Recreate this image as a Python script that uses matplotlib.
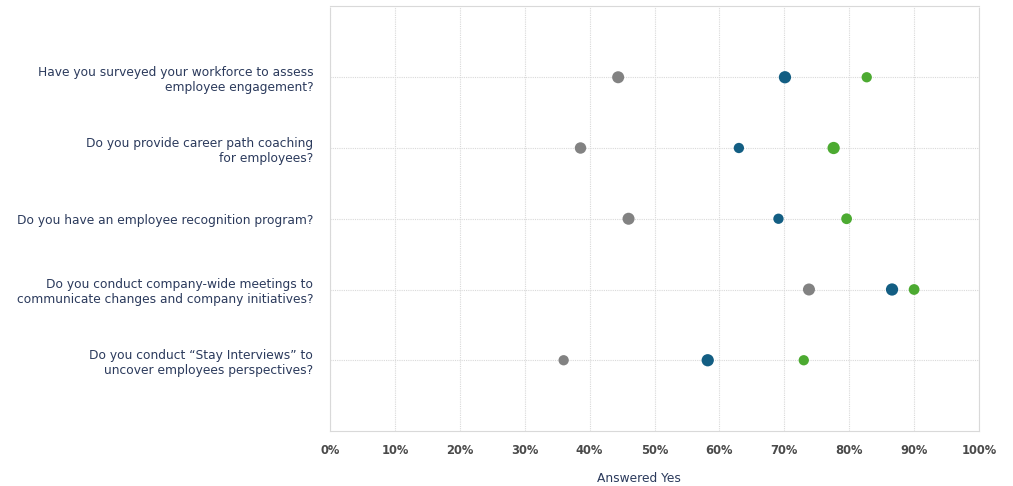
import matplotlib
matplotlib.use("Agg")
import matplotlib.pyplot as plt
import numpy as np

questions = [
    "Have you surveyed your workforce to assess\nemployee engagement?",
    "Do you provide career path coaching\nfor employees?",
    "Do you have an employee recognition program?",
    "Do you conduct company-wide meetings to\ncommunicate changes and company initiatives?",
    "Do you conduct \u201cStay Interviews\u201d to\nuncover employees perspectives?",
]
gray_vals = [44.4, 38.6, 46.0, 73.8, 36.0]
blue_vals = [70.1, 63.0, 69.1, 86.6, 58.2]
green_vals = [82.7, 77.6, 79.6, 90.0, 73.0]
gray_sizes = [75, 68, 75, 75, 55]
blue_sizes = [78, 55, 55, 78, 78]
green_sizes = [55, 78, 60, 60, 55]
x_ticks = list(range(0, 101, 10))
x_tick_labels = [f"{t}%" for t in x_ticks]

text_color = "#2b3a5c"
plt.rcParams['font.family'] = ['DejaVu Sans']

fig = plt.figure(figsize=(10.13, 4.86), dpi=100)
ax = fig.add_axes([330/1013, 1-431/486, (979-330)/1013, (431-6.5)/486])

y = np.arange(len(questions))
ax.scatter(gray_vals, y, s=gray_sizes, color="#828282", zorder=3, linewidths=0)
ax.scatter(blue_vals, y, s=blue_sizes, color="#135e83", zorder=3, linewidths=0)
ax.scatter(green_vals, y, s=green_sizes, color="#4caa31", zorder=3, linewidths=0)

ax.set_xlim(0, 100)
ax.set_ylim(len(questions), -1)
ax.set_xticks(x_ticks)
ax.set_xticklabels(x_tick_labels, fontsize=8.3, fontweight='bold', color="#4a4a4a")
ax.set_yticks(y)
ax.set_yticklabels(questions, fontsize=8.8, color=text_color, linespacing=1.2)
ax.tick_params(axis='both', length=0)
ax.tick_params(axis='x', pad=9)
ax.tick_params(axis='y', pad=12)
ax.grid(True, color="#d9d9d9", linestyle=(0, (1, 1)), linewidth=0.8, zorder=0)
for sp in ax.spines.values():
    sp.set_color("#d9d9d9")
    sp.set_linestyle((0, (1, 1)))
    sp.set_linewidth(0.8)

fig.text(639/1013, 1-478/486, "Answered Yes", ha='center', va='center', fontsize=8.8, color=text_color)

fig.savefig("out.png", dpi=100)
